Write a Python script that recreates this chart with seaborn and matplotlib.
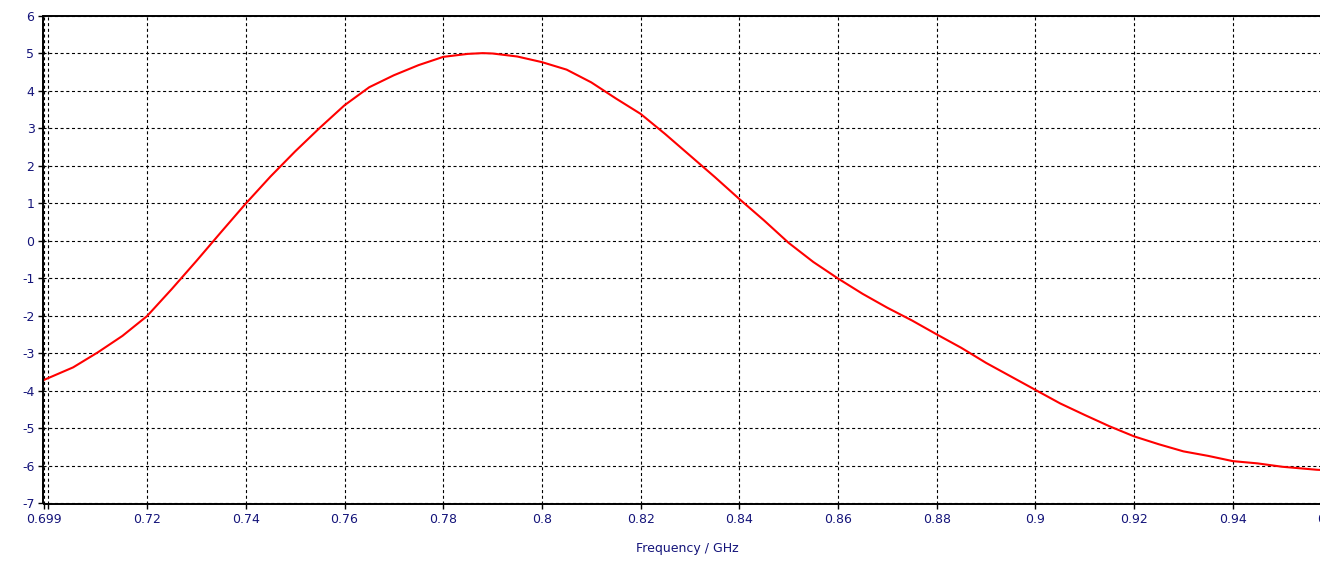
import numpy as np
import pandas as pd
import matplotlib
matplotlib.use("Agg")
import matplotlib.pyplot as plt
import seaborn as sns

freq = [0.699, 0.705, 0.71, 0.715, 0.72, 0.725, 0.73, 0.735, 0.74, 0.745, 0.75,
        0.755, 0.76, 0.765, 0.77, 0.775, 0.78, 0.785, 0.788, 0.79, 0.795, 0.80,
        0.805, 0.81, 0.815, 0.82, 0.825, 0.83, 0.835, 0.84, 0.845, 0.85, 0.855,
        0.86, 0.865, 0.87, 0.875, 0.88, 0.885, 0.89, 0.895, 0.90, 0.905, 0.91,
        0.915, 0.92, 0.925, 0.93, 0.935, 0.94, 0.945, 0.95, 0.957, 0.96]
value = [-3.71, -3.37, -2.97, -2.53, -2.00, -1.28, -0.53, 0.24, 1.00, 1.72, 2.39,
         3.02, 3.62, 4.10, 4.42, 4.69, 4.91, 4.99, 5.01, 5.00, 4.92, 4.77,
         4.57, 4.23, 3.80, 3.39, 2.85, 2.28, 1.71, 1.12, 0.55, -0.05, -0.56,
         -1.00, -1.41, -1.78, -2.12, -2.49, -2.85, -3.25, -3.61, -3.97, -4.33, -4.64,
         -4.94, -5.21, -5.42, -5.61, -5.73, -5.87, -5.93, -6.02, -6.10, -6.12]

x_ticks = [0.699, 0.70, 0.72, 0.74, 0.76, 0.78, 0.80, 0.82, 0.84, 0.86, 0.88, 0.90, 0.92, 0.94, 0.96]
x_tick_labels = ["0.699", "", "0.72", "0.74", "0.76", "0.78", "0.8", "0.82", "0.84",
                 "0.86", "0.88", "0.9", "0.92", "0.94", "0.96"]
y_ticks = list(range(-7, 7))
x_label = "Frequency / GHz"

sns.set_theme(style="white")
plt.rcParams['font.family'] = ['DejaVu Sans']
plt.rcParams['lines.scale_dashes'] = False

df = pd.DataFrame({"freq": freq, "value": value})

fig = plt.figure(figsize=(13.2, 5.63), dpi=100)
W, H = 1320, 563
left_px, right_px = 43.5, 1331.5
top_px, bottom_px = 16.0, 503.5
ax = fig.add_axes([left_px / W, (H - bottom_px) / H,
                   (right_px - left_px) / W, (bottom_px - top_px) / H])

sns.lineplot(data=df, x="freq", y="value", ax=ax, color="#ff0000", linewidth=1.5)

ax.set_xlim(0.699, 0.96)
ax.set_ylim(-7, 6)
ax.set_xticks(x_ticks)
ax.set_xticklabels(x_tick_labels)
ax.set_yticks(y_ticks)
ax.set_yticklabels([str(t) for t in y_ticks])

ax.grid(True, color="black", linestyle=(0, (2.2, 1.9)), linewidth=0.8)
ax.set_axisbelow(True)

for side in ["left", "bottom", "top", "right"]:
    ax.spines[side].set_color("black")
    ax.spines[side].set_linewidth(1.4)

lab_col = "#14147a"
ax.tick_params(axis="both", which="major", direction="out", length=3.5, width=1.0,
               color="black", labelsize=9, labelcolor=lab_col, pad=3,
               bottom=True, left=True)
ax.set_xlabel(x_label, fontsize=9, color=lab_col, labelpad=12)
ax.set_ylabel("")

fig.savefig("out.png", dpi=100)
